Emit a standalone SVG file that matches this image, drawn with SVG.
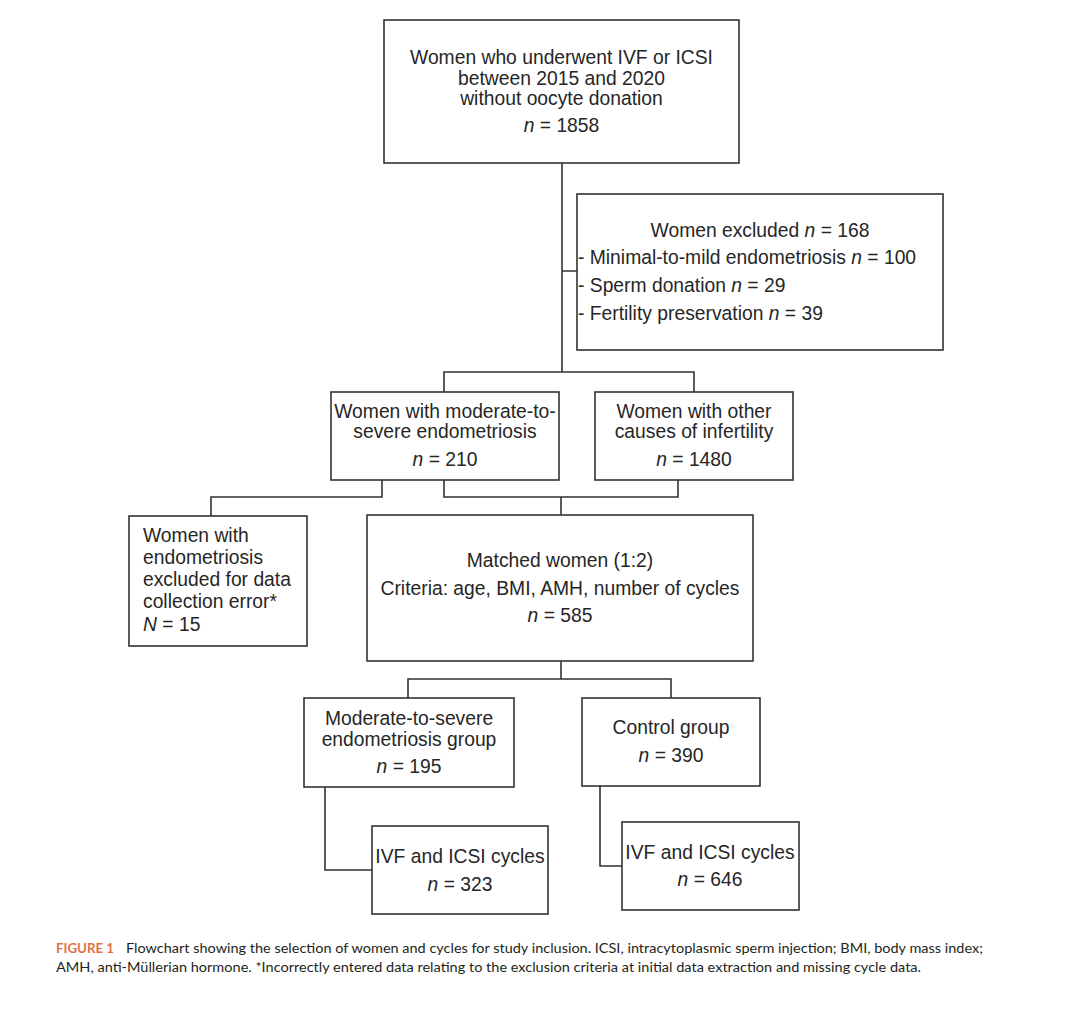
<svg xmlns="http://www.w3.org/2000/svg" width="1070" height="1033" viewBox="0 0 1070 1033">
<style>
.box{fill:#fff;stroke:#333;stroke-width:1.6}
.ln{fill:none;stroke:#333;stroke-width:1.6}
.t{font-family:"Liberation Sans",Arial,sans-serif;font-size:19.3px;fill:#262626}
.c{text-anchor:middle}
.cap{font-family:Lato,"Open Sans",sans-serif;font-size:13.5px;fill:#231f20}
.fig{fill:#e2703f;font-weight:bold}
</style>
<rect width="1070" height="1033" fill="#fff"/>
<g id="connectors">
<path class="ln" d="M562,163 V372 M444,392 V372 H694 V392 M562,271 H577"/>
<path class="ln" d="M382,480 V497 H211 V516 M444,480 V497 H678 V480 M561,497 V515"/>
<path class="ln" d="M561,661 V679 M408,698 V679 H671 V698"/>
<path class="ln" d="M325,787 V870 H372 M600,786 V866 H622"/>
</g>
<g id="n1">
<rect class="box" x="384" y="20" width="355" height="143"/>
<text class="t c" x="561.5" y="64">Women who underwent IVF or ICSI</text>
<text class="t c" x="561.5" y="85">between 2015 and 2020</text>
<text class="t c" x="561.5" y="105">without oocyte donation</text>
<text class="t c" x="561.5" y="132"><tspan font-style="italic">n</tspan> = 1858</text>
</g>
<g id="n2">
<rect class="box" x="577" y="194" width="366" height="156"/>
<text class="t c" x="760" y="237">Women excluded <tspan font-style="italic">n</tspan> = 168</text>
<text class="t" x="578" y="264">- Minimal-to-mild endometriosis <tspan font-style="italic">n</tspan> = 100</text>
<text class="t" x="578" y="292">- Sperm donation <tspan font-style="italic">n</tspan> = 29</text>
<text class="t" x="578" y="320">- Fertility preservation <tspan font-style="italic">n</tspan> = 39</text>
</g>
<g id="n3">
<rect class="box" x="331" y="392" width="228" height="88"/>
<text class="t c" x="445" y="418">Women with moderate-to-</text>
<text class="t c" x="445" y="438">severe endometriosis</text>
<text class="t c" x="445" y="466"><tspan font-style="italic">n</tspan> = 210</text>
</g>
<g id="n4">
<rect class="box" x="595" y="392" width="198" height="88"/>
<text class="t c" x="694" y="418">Women with other</text>
<text class="t c" x="694" y="438">causes of infertility</text>
<text class="t c" x="694" y="466"><tspan font-style="italic">n</tspan> = 1480</text>
</g>
<g id="n5">
<rect class="box" x="129" y="516" width="178" height="130"/>
<text class="t" x="143" y="542">Women with</text>
<text class="t" x="143" y="564">endometriosis</text>
<text class="t" x="143" y="586">excluded for data</text>
<text class="t" x="143" y="608">collection error*</text>
<text class="t" x="143" y="631"><tspan font-style="italic">N</tspan> = 15</text>
</g>
<g id="n6">
<rect class="box" x="367" y="515" width="386" height="146"/>
<text class="t c" x="560" y="567">Matched women (1:2)</text>
<text class="t c" x="560" y="595">Criteria: age, BMI, AMH, number of cycles</text>
<text class="t c" x="560" y="622"><tspan font-style="italic">n</tspan> = 585</text>
</g>
<g id="n7">
<rect class="box" x="304" y="698" width="210" height="89"/>
<text class="t c" x="409" y="725">Moderate-to-severe</text>
<text class="t c" x="409" y="746">endometriosis group</text>
<text class="t c" x="409" y="773"><tspan font-style="italic">n</tspan> = 195</text>
</g>
<g id="n8">
<rect class="box" x="582" y="698" width="178" height="88"/>
<text class="t c" x="671" y="734">Control group</text>
<text class="t c" x="671" y="762"><tspan font-style="italic">n</tspan> = 390</text>
</g>
<g id="n9">
<rect class="box" x="372" y="826" width="176" height="88"/>
<text class="t c" x="460" y="863">IVF and ICSI cycles</text>
<text class="t c" x="460" y="891"><tspan font-style="italic">n</tspan> = 323</text>
</g>
<g id="n10">
<rect class="box" x="622" y="822" width="177" height="88"/>
<text class="t c" x="710" y="859">IVF and ICSI cycles</text>
<text class="t c" x="710" y="886"><tspan font-style="italic">n</tspan> = 646</text>
</g>
<g id="caption">
<text class="cap fig" x="56" y="953" textLength="58" lengthAdjust="spacingAndGlyphs">FIGURE 1</text>
<text class="cap" x="126" y="953" textLength="857" lengthAdjust="spacingAndGlyphs">Flowchart showing the selection of women and cycles for study inclusion. ICSI, intracytoplasmic sperm injection; BMI, body mass index;</text>
<text class="cap" x="56" y="972" textLength="865" lengthAdjust="spacingAndGlyphs">AMH, anti-Müllerian hormone. *Incorrectly entered data relating to the exclusion criteria at initial data extraction and missing cycle data.</text>
</g>
</svg>
